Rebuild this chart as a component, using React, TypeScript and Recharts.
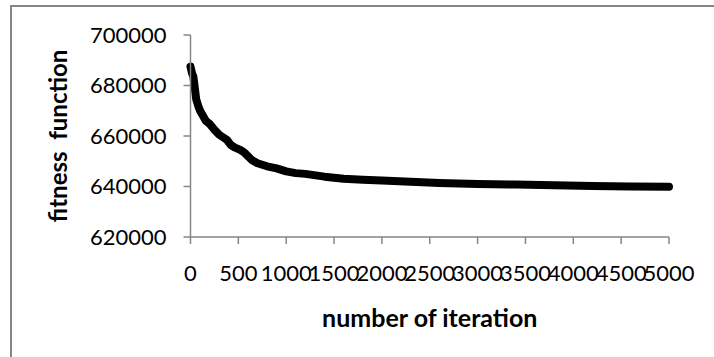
import { LineChart, Line, XAxis, YAxis } from 'recharts';

// iteration number and best fitness
const iterations = [
  0, 15, 30, 45, 60, 80, 100, 130, 160, 200, 250, 300, 340, 380, 420, 460, 520, 560, 600, 640,
  700, 800, 900, 1000, 1100, 1200, 1400, 1600, 1800, 2000, 2300, 2600, 3000, 3400, 3800, 4200,
  4600, 5000,
];
const fitness = [
  687500, 685000, 683500, 679000, 674500, 672000, 670000, 668000, 666000, 664800, 662500, 660500,
  659500, 658500, 656500, 655500, 654500, 653500, 652000, 650500, 649200, 648000, 647200, 646000,
  645300, 645000, 643900, 643100, 642700, 642400, 641900, 641400, 641000, 640800, 640500, 640200,
  640000, 639900,
];
const xTicks = [0, 500, 1000, 1500, 2000, 2500, 3000, 3500, 4000, 4500, 5000];
const yTicks = [620000, 640000, 660000, 680000, 700000];

const data = iterations.map((iteration, i) => ({ iteration, value: fitness[i] }));

const axisColor = '#868686';
const font = 'Lato, "Open Sans", sans-serif';

export default function App() {
  return (
    <div style={{ position: 'absolute', left: 0, top: 0, width: 714, height: 357, background: '#fff' }}>
      <div
        style={{
          position: 'absolute',
          left: 10,
          top: 5,
          width: 720,
          height: 370,
          border: `2px solid ${axisColor}`,
          pointerEvents: 'none',
        }}
      />
      <LineChart
        width={714}
        height={357}
        data={data}
        margin={{ top: 35, right: 45, bottom: 20, left: 10 }}
        style={{ position: 'absolute', left: 0, top: 0, fontFamily: font }}
      >
        <XAxis
          dataKey="iteration"
          type="number"
          domain={[0, 5000]}
          ticks={xTicks}
          interval={0}
          height={100}
          tickSize={7}
          tickMargin={21}
          stroke={axisColor}
          strokeWidth={1.5}
          tick={{ fill: '#000', fontSize: 22, fontFamily: font }}
          label={{
            value: 'number of iteration',
            position: 'insideBottom',
            offset: 10,
            style: { fill: '#000', fontSize: 25, fontWeight: 700, fontFamily: font },
          }}
        />
        <YAxis
          type="number"
          domain={[620000, 700000]}
          ticks={yTicks}
          interval={0}
          width={180.5}
          tickSize={7}
          tickMargin={17}
          stroke={axisColor}
          strokeWidth={1.5}
          tick={{ fill: '#000', fontSize: 22, fontFamily: font }}
          label={{
            value: 'fitness\u00a0 function',
            angle: -90,
            position: 'insideLeft',
            offset: 48,
            style: { fill: '#000', fontSize: 24, fontWeight: 700, fontFamily: font, textAnchor: 'middle' },
          }}
        />
        <Line
          type="linear"
          dataKey="value"
          stroke="#000"
          strokeWidth={8}
          strokeLinecap="round"
          strokeLinejoin="round"
          dot={false}
          isAnimationActive={false}
        />
      </LineChart>
    </div>
  );
}
